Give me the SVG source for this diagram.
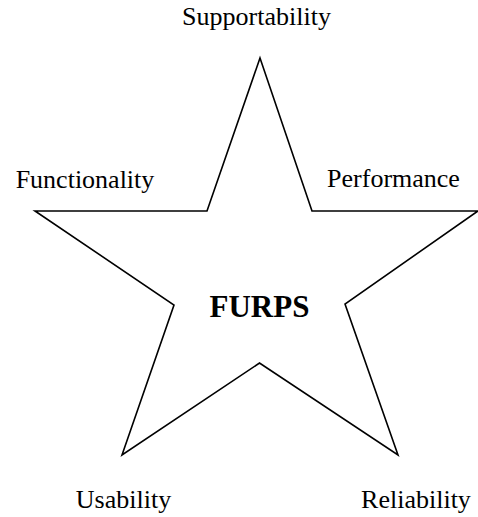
<svg xmlns="http://www.w3.org/2000/svg" width="478" height="517" viewBox="0 0 478 517">
<style>
.lbl{font-family:"Liberation Serif","Times New Roman",serif;font-size:26px;fill:#000;text-anchor:middle}
.title{font-family:"Liberation Serif","Times New Roman",serif;font-size:31px;font-weight:bold;fill:#000;text-anchor:middle}
.star{fill:#fff;stroke:#000;stroke-width:1.6;stroke-linejoin:miter}
</style>
<rect width="478" height="517" fill="#fff"/>
<g id="star">
<polygon class="star" points="260,58 312,211 478,211 345,304 398,455 259.5,363 122,455 174,305 35,211 207,211"/>
<text class="title" x="259.5" y="317">FURPS</text>
</g>
<g id="supportability"><text class="lbl" x="256.5" y="25">Supportability</text></g>
<g id="functionality"><text class="lbl" x="85" y="188">Functionality</text></g>
<g id="performance"><text class="lbl" x="393.5" y="187">Performance</text></g>
<g id="usability"><text class="lbl" x="123.5" y="508">Usability</text></g>
<g id="reliability"><text class="lbl" x="416" y="508">Reliability</text></g>
<g id="connectors"></g>
</svg>
